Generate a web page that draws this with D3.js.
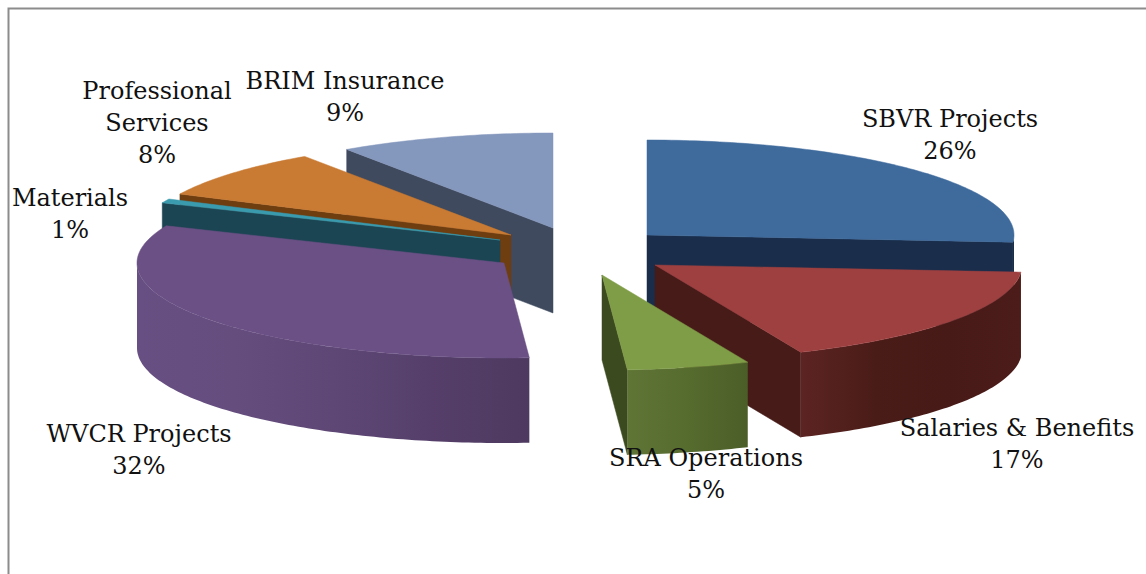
<!DOCTYPE html>
<html>
<head>
<meta charset="utf-8">
<script src="https://cdnjs.cloudflare.com/ajax/libs/d3/7.8.5/d3.min.js"></script>
<style>
  html, body { margin: 0; padding: 0; background: #fff; overflow: hidden; }
  text { font-family: "DejaVu Serif", serif; font-size: 24px; fill: #111; text-anchor: middle; }
</style>
</head>
<body>
<div id="chart"></div>
<script>
// Data (percent of the budget)
let categories = ["SBVR Projects", "Salaries & Benefits", "SRA Operations", "WVCR Projects", "Materials", "Professional Services", "BRIM Insurance"];
let values = [26.2, 17.3, 5.4, 32.5, 0.7, 8.4, 9.5];

// Where each exploded slice has its tip
let tipX = [647, 655, 602, 504, 500, 511, 553];
let tipY = [235, 265, 275, 263, 240, 235, 228];

// Slice colours
let topColors = ["#3f6a9c", "#9e4040", "#7f9c47", "#6a5085", "#3a9aae", "#c97a33", "#8497bc"];
let cutColors = ["#1a2e4b", "#461b18", "#3c4a20", "#4f3a60", "#1c4554", "#6e3d10", "#3f4a5e"];
let rimStops = [
  ["#1a2e4b", "#1a2e4b"],
  ["#5c2423", "#4a1c18", "#481a17", "#4b1c19"],
  ["#5f7536", "#566b2e", "#4b5e28"],
  ["#684f83", "#654d7e", "#5e4775", "#553f6a", "#4e3a60"],
  ["#1c4554", "#1c4554"],
  ["#6e3d10", "#6e3d10"],
  ["#3f4a5e", "#3f4a5e"]
];

// Label lines and where they sit
let labelLines = [["SBVR Projects"], ["Salaries & Benefits"], ["SRA Operations"], ["WVCR Projects"], ["Materials"], ["Professional", "Services"], ["BRIM Insurance"]];
let labelX = [950, 1017, 706, 139, 70, 157, 345];
let labelY = [127, 436, 466, 442, 206, 99, 89];
let lineHeight = 32;

let width = 1146;
let height = 574;
let rx = 367;
let ry = 95;
let depth = 85;

let svg = d3.select("#chart").append("svg")
  .attr("width", width)
  .attr("height", height);

// Chart frame, only top and left show in the crop
svg.append("path")
  .attr("d", "M8.5," + height + "V8.5H" + width)
  .attr("fill", "none")
  .attr("stroke", "#8c8c8c")
  .attr("stroke-width", 2);

let defs = svg.append("defs");

// Pie layout, clockwise from 12 o'clock and in the given order
let pie = d3.pie().sort(null).value(d => d.value);
let slices = pie(categories.map((name, i) => ({ name: name, value: values[i], index: i })));

let line = d3.line().x(d => d[0]).y(d => d[1]);

function rimPoint(i, angle) {
  return [tipX[i] + rx * Math.sin(angle), tipY[i] - ry * Math.cos(angle)];
}

function arcPoints(i, a0, a1) {
  let n = Math.max(2, Math.ceil((a1 - a0) * 60));
  return d3.range(n + 1).map(k => rimPoint(i, a0 + (a1 - a0) * k / n));
}

function drop(p) {
  return [p[0], p[1] + depth];
}

function drawCut(group, i, angle) {
  let tip = [tipX[i], tipY[i]];
  let rim = rimPoint(i, angle);
  group.append("path")
    .attr("d", line([tip, rim, drop(rim), drop(tip)]) + "Z")
    .attr("fill", cutColors[i])
    .attr("stroke", cutColors[i])
    .attr("stroke-width", 0.5);
}

// Back slices first so the front ones cover them
let drawOrder = [6, 5, 4, 3, 0, 1, 2];

drawOrder.forEach(i => {
  let s = slices[i];
  let g = svg.append("g").attr("class", "slice");

  // Cut faces turned to the viewer
  if (Math.sin(s.startAngle) < -1e-6) drawCut(g, i, s.startAngle);
  if (Math.sin(s.endAngle) > 1e-6) drawCut(g, i, s.endAngle);

  // Outer wall, only the part on the front half of the ellipse
  let a0 = Math.max(s.startAngle, Math.PI / 2);
  let a1 = Math.min(s.endAngle, Math.PI * 3 / 2);
  if (a1 > a0) {
    let upper = arcPoints(i, a0, a1);
    let lower = upper.map(drop).reverse();
    let xs = d3.extent(upper, d => d[0]);
    let stops = rimStops[i];
    let grad = defs.append("linearGradient")
      .attr("id", "rim" + i)
      .attr("gradientUnits", "userSpaceOnUse")
      .attr("x1", xs[0]).attr("x2", xs[1])
      .attr("y1", 0).attr("y2", 0);
    grad.selectAll("stop")
      .data(stops)
      .enter()
      .append("stop")
      .attr("offset", (d, k) => k / (stops.length - 1))
      .attr("stop-color", d => d);
    g.append("path")
      .attr("d", line(upper.concat(lower)) + "Z")
      .attr("fill", "url(#rim" + i + ")");
  }

  // Top face
  let top = [[tipX[i], tipY[i]]].concat(arcPoints(i, s.startAngle, s.endAngle));
  g.append("path")
    .attr("d", line(top) + "Z")
    .attr("fill", topColors[i])
    .attr("stroke", topColors[i])
    .attr("stroke-width", 0.5);
});

// Labels: name lines and then the rounded percent
slices.forEach((s, i) => {
  let lines = labelLines[i].concat([Math.ceil(s.data.value - 0.5) + "%"]);
  let txt = svg.append("text").attr("class", "label");
  lines.forEach((t, k) => {
    txt.append("tspan")
      .attr("x", labelX[i])
      .attr("y", labelY[i] + k * lineHeight)
      .text(t);
  });
});
</script>
</body>
</html>
